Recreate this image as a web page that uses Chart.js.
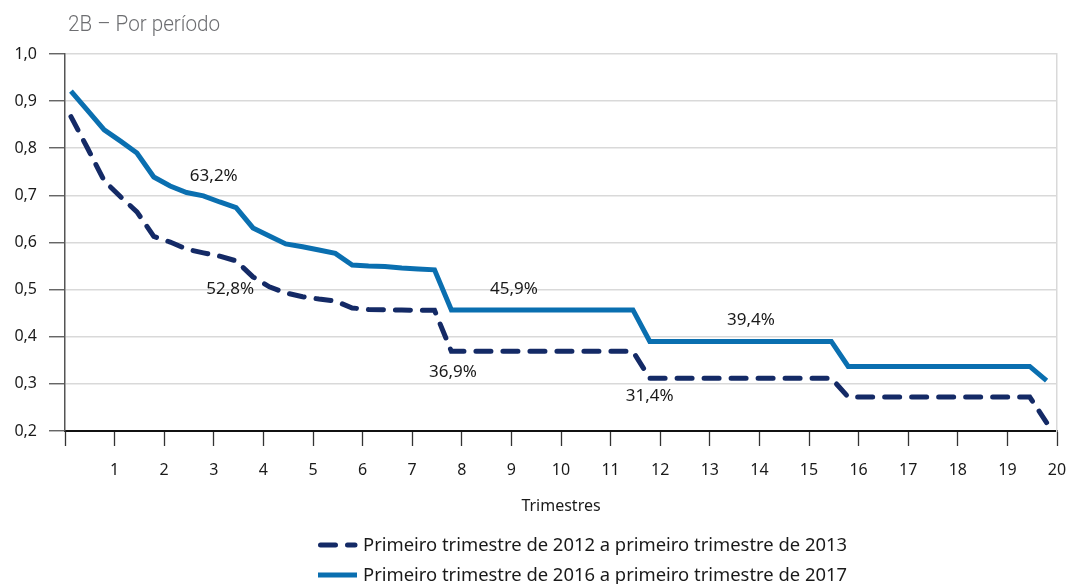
<!DOCTYPE html>
<html><head><meta charset="utf-8">
<script src="https://cdn.jsdelivr.net/npm/chart.js@4"></script>
<style>html,body{margin:0;padding:0;background:#fff}#wrap{position:relative;width:1068px;height:584px}</style>
</head><body><div id="wrap"><canvas id="c" width="1068" height="584"></canvas></div>
<script>
const chartTitle = '2B – Por período';
const xAxisTitle = 'Trimestres';
const seriesNames = ['Primeiro trimestre de 2012 a primeiro trimestre de 2013', 'Primeiro trimestre de 2016 a primeiro trimestre de 2017'];
const xTickLabels = ['', '1','2','3','4','5','6','7','8','9','10','11','12','13','14','15','16','17','18','19','20'];
const yTickLabels = ['0,2','0,3','0,4','0,5','0,6','0,7','0,8','0,9','1,0'];

// position of every observation on the quarter axis (monthly steps)
const quarterPos = [
  0.12,0.45,0.79, 1.12,1.45,1.79, 2.12,2.45,2.79, 3.12,3.45,3.79,
  4.12,4.45,4.79, 5.12,5.45,5.79, 6.12,6.45,6.79, 7.12,7.45,7.79,
  8.12,8.45,8.79, 9.12,9.45,9.79, 10.12,10.45,10.79, 11.12,11.45,11.79,
  12.12,12.45,12.79, 13.12,13.45,13.79, 14.12,14.45,14.79, 15.12,15.45,15.79,
  16.12,16.45,16.79, 17.12,17.45,17.79, 18.12,18.45,18.79, 19.12,19.45,19.79
];
const series2012 = [
  0.867,0.801,0.731, 0.697,0.665,0.613, 0.601,0.586,0.578, 0.571,0.561,0.527,
  0.506,0.493,0.485, 0.480,0.476,0.461, 0.458,0.457,0.457, 0.456,0.456,0.369,
  0.369,0.369,0.369, 0.369,0.369,0.369, 0.369,0.369,0.369, 0.369,0.369,0.312,
  0.312,0.312,0.312, 0.312,0.312,0.312, 0.312,0.312,0.312, 0.312,0.312,0.272,
  0.272,0.272,0.272, 0.272,0.272,0.272, 0.272,0.272,0.272, 0.272,0.272,0.218
];
const series2016 = [
  0.921,0.881,0.839, 0.815,0.790,0.739, 0.720,0.706,0.699, 0.686,0.674,0.631,
  0.614,0.597,0.591, 0.584,0.577,0.552, 0.550,0.549,0.546, 0.544,0.542,0.457,
  0.457,0.457,0.457, 0.457,0.457,0.457, 0.457,0.457,0.457, 0.457,0.457,0.390,
  0.390,0.390,0.390, 0.390,0.390,0.390, 0.390,0.390,0.390, 0.390,0.390,0.337,
  0.337,0.337,0.337, 0.337,0.337,0.337, 0.337,0.337,0.337, 0.337,0.337,0.307
];
// value annotations: text, quarter position, value position
const noteTexts = ['63,2%','52,8%','45,9%','36,9%','39,4%','31,4%'];
const noteX = [3.00, 3.33, 9.05, 7.82, 13.83, 11.79];
const noteY = [0.741, 0.500, 0.500, 0.324, 0.436, 0.273];

const colorDark = '#142a66';
const colorBlue = '#0a6fb0';
const FONT = '"Noto Sans", "Open Sans", sans-serif';

const pts = (ys) => ys.map((y, i) => ({ x: quarterPos[i], y }));

const extras = {
  id: 'extras',
  afterDraw(chart) {
    const ctx = chart.ctx;
    const xs = chart.scales.x, ys = chart.scales.y;
    ctx.save();
    // title
    ctx.fillStyle = '#6d6e71';
    ctx.font = '300 22px Roboto, "Open Sans", sans-serif';
    ctx.textBaseline = 'middle';
    ctx.textAlign = 'left';
    const tw = ctx.measureText(chartTitle).width;
    ctx.save();
    ctx.translate(68, 25);
    ctx.scale(152 / tw, 1);
    ctx.fillText(chartTitle, 0, 0);
    ctx.restore();
    // annotations
    ctx.fillStyle = '#1a1a1a';
    ctx.font = '17px ' + FONT;
    ctx.textAlign = 'center';
    noteTexts.forEach((t, i) => {
      ctx.fillText(t, xs.getPixelForValue(noteX[i]), ys.getPixelForValue(noteY[i]));
    });
    // legend
    const rows = [
      { y: 545, color: colorDark, dash: [15, 12], cap: 'round' },
      { y: 575, color: colorBlue, dash: [], cap: 'butt' }
    ];
    ctx.font = '18px ' + FONT;
    ctx.textAlign = 'left';
    rows.forEach((r, i) => {
      ctx.beginPath();
      ctx.strokeStyle = r.color;
      ctx.lineWidth = 5;
      ctx.lineCap = r.cap;
      ctx.setLineDash(r.dash);
      if (r.cap === 'round') { ctx.moveTo(320.5, r.y); ctx.lineTo(355, r.y); }
      else { ctx.moveTo(318, r.y); ctx.lineTo(357, r.y); }
      ctx.stroke();
      ctx.setLineDash([]);
      ctx.fillStyle = '#1a1a1a';
      const w = ctx.measureText(seriesNames[i]).width;
      ctx.save();
      ctx.translate(363, r.y + 1);
      ctx.scale(484 / w, 1);
      ctx.fillText(seriesNames[i], 0, 0);
      ctx.restore();
    });
    ctx.restore();
  }
};

new Chart(document.getElementById('c'), {
  type: 'line',
  data: {
    datasets: [
      { label: seriesNames[0], data: pts(series2012), borderColor: colorDark, borderWidth: 5,
        borderDash: [15, 12], borderCapStyle: 'round', pointRadius: 0, tension: 0, fill: false },
      { label: seriesNames[1], data: pts(series2016), borderColor: colorBlue, borderWidth: 5,
        pointRadius: 0, tension: 0, fill: false, borderJoinStyle: 'miter' }
    ]
  },
  options: {
    responsive: false,
    animation: false,
    devicePixelRatio: 1,
    layout: { padding: { top: 54, right: 11, left: 0, bottom: 64 } },
    plugins: { legend: { display: false }, tooltip: { enabled: false }, title: { display: false } },
    scales: {
      x: {
        type: 'linear', min: 0, max: 20,
        afterFit: (s) => { s.height = 89; s.paddingRight = 0; s.paddingLeft = 0; },
        ticks: { stepSize: 1, autoSkip: false, maxRotation: 0, color: '#1a1a1a', padding: 15,
          font: { family: FONT, size: 16 },
          callback: (v) => xTickLabels[v] },
        grid: { drawOnChartArea: false, tickLength: 15, tickColor: '#333', tickWidth: 1.3 },
        border: { color: '#111', width: 2 },
        title: { display: true, text: xAxisTitle, color: '#1a1a1a', font: { family: FONT, size: 16 }, padding: { top: 7 } }
      },
      y: {
        type: 'linear', min: 0.2, max: 1.0,
        afterFit: (s) => { s.width = 65; },
        ticks: { stepSize: 0.1, color: '#1a1a1a', padding: 12, font: { family: FONT, size: 16 },
          callback: (v) => yTickLabels[Math.round((v - 0.2) * 10)] },
        grid: { color: '#d9d9d9', lineWidth: 1.5, tickLength: 16, tickColor: '#555', tickWidth: 1.3 },
        border: { color: '#555', width: 1.5 }
      },
      yRight: {
        type: 'linear', position: 'right', min: 0, max: 1,
        afterFit: (s) => { s.width = 0; s.paddingTop = 0; s.paddingBottom = 0; },
        ticks: { display: false, padding: 0 },
        grid: { drawOnChartArea: false, drawTicks: false },
        border: { color: '#d9d9d9', width: 1.5 }
      }
    }
  },
  plugins: [extras]
});
</script></body></html>
